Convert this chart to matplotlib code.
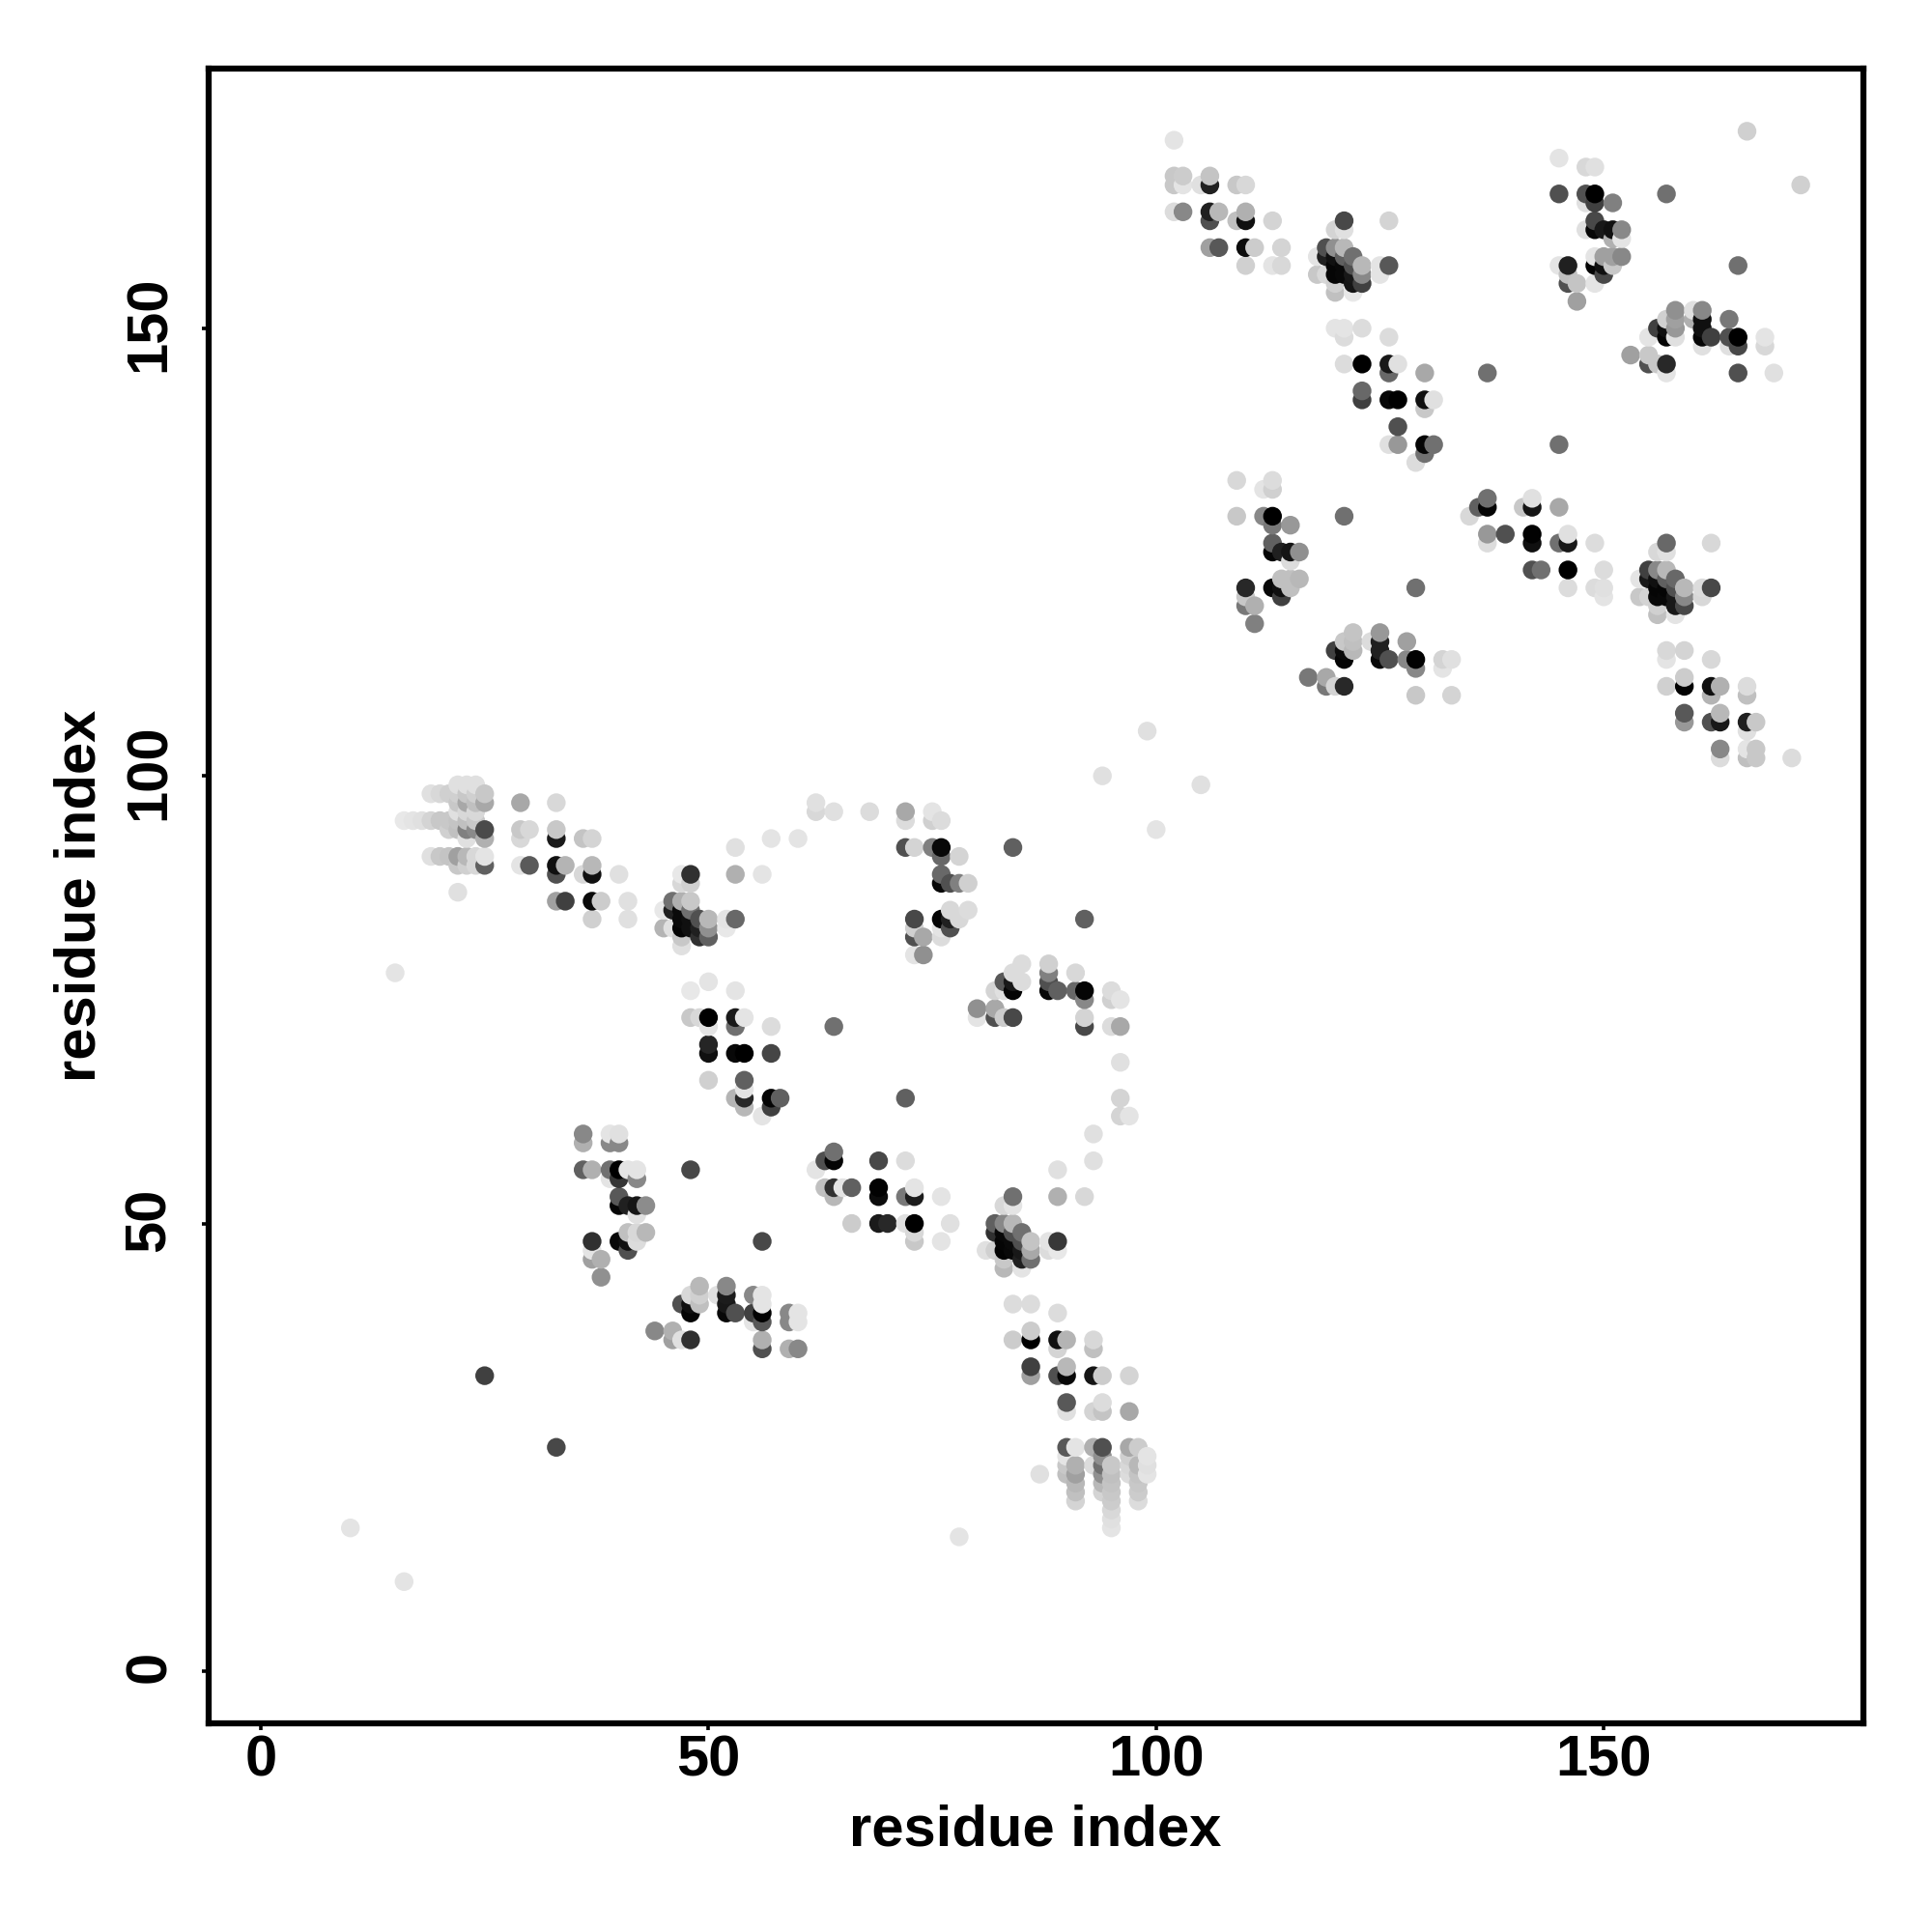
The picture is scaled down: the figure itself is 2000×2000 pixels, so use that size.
import numpy as np
import matplotlib
matplotlib.use("Agg")
from matplotlib import pyplot as plt
from matplotlib.transforms import ScaledTranslation

# contacts: (residue x, residue y, grey level)
outliers = [(10,16,0xe4),(16,10,0xe4),(15,78,0xe4),(78,15,0xe4),(25,33,0x40),(33,25,0x48),
	(48,56,0x48),(56,48,0x48),(64,72,0x70),(72,64,0x60),(84,92,0x60),(92,84,0x60),
	(94,100,0xe0),(100,94,0xe4),(99,105,0xe0),(105,99,0xe0),(121,129,0x70),(129,121,0x70),
	(137,145,0x70),(145,137,0x70),(157,165,0x70),(165,157,0x70),(166,172,0xd0),(172,166,0xd0),
	(102,171,0xe4),(171,102,0xdc)]

block_top_left = [(22,99,0xe0),(23,99,0xe0),(24,99,0xe0),(19,98,0xe0),(20,98,0xd8),(21,98,0xd0),
	(22,98,0xd0),(23,98,0xc8),(24,98,0xd0),(25,98,0xc8),(22,97,0xc8),(23,97,0xa8),(24,97,0xc0),(25,97,0xa8),
	(22,96,0xe0),(23,96,0xd8),(24,96,0xd8),(16,95,0xe8),(17,95,0xe4),(18,95,0xe0),(19,95,0xd4),
	(20,95,0xc8),(21,95,0xc8),(22,95,0xc4),(23,95,0xc0),(24,95,0xc8),(21,94,0xd0),(22,94,0xc0),
	(23,94,0x80),(24,94,0x8a),(25,94,0x4a),(23,93,0xe0),(25,93,0xb0),(19,91,0xe0),(20,91,0xc8),
	(21,91,0xc4),(22,91,0xa0),(23,91,0xb8),(24,91,0xd8),(25,91,0xe4),(22,90,0xc8),(23,90,0xd0),
	(24,90,0xd8),(25,90,0x60),(22,87,0xe0)]

block_33_41 = [(29,97,0xa8),(33,97,0xd8),(29,94,0xc8),(30,94,0xd8),(29,93,0xd8),(33,94,0xc8),(33,93,0x1a),
	(36,93,0xc4),(37,93,0xd4),(29,90,0xe4),(30,90,0x5a),(33,90,0x10),(34,90,0xb4),(33,89,0x50),
	(36,89,0xd8),(37,90,0xb8),(37,89,0x10),(40,89,0xe0),(33,86,0xa0),(34,86,0x40),(37,86,0x0a),
	(38,86,0xcc),(41,86,0xe0),(37,84,0xd0),(41,84,0xe0)]

block_48_84 = [(48,89,0x30),(47,89,0xe8),(47,88,0xd8),(48,88,0xd0),(53,92,0xe0),(53,89,0xb0),(56,89,0xe4),
	(57,93,0xe4),(60,93,0xe4),(62,97,0xe0),(62,96,0xd8),(64,96,0xe0),(45,85,0xe8),(46,86,0x70),
	(47,86,0xb0),(48,86,0xc8),(46,85,0x20),(47,85,0x0a),(48,85,0x70),(45,83,0xb4),(46,83,0xe0),
	(47,84,0x0a),(48,84,0x10),(49,84,0x50),(50,84,0xb8),(47,83,0x05),(48,83,0x10),(49,83,0x20),
	(50,83,0x90),(49,82,0x30),(50,82,0x60),(47,82,0xc8),(47,81,0xe0),(52,84,0xe4),(53,84,0x68),(52,83,0xe8)]

block_50_72 = [(48,76,0xe8),(50,77,0xe4),(53,76,0xe4),(48,73,0xc8),(49,73,0xd8),(50,73,0x00),(50,72,0xe4),
	(53,73,0x1a),(54,73,0xe4),(53,72,0x70),(57,72,0xdc),(50,70,0x25),(50,69,0x10),(53,69,0x08),
	(54,69,0x00),(57,69,0x45),(50,66,0xd0),(54,66,0x60),(54,65,0xe4),(53,64,0xb4),(54,64,0x28),
	(54,63,0xb8),(57,64,0x05),(58,64,0x60),(57,63,0x40),(56,62,0xe4)]

block_36_60 = [(36,60,0x88),(36,59,0xb0),(39,60,0xe4),(40,60,0xe0),(39,59,0x88),(40,59,0x88),(36,56,0x60),
	(37,56,0xb0),(39,56,0x70),(40,56,0x00),(41,56,0xe4),(42,56,0xe4),(39,55,0xe4),(40,55,0x35),
	(42,55,0x88),(40,53,0x58),(40,52,0x05),(41,52,0x20),(42,52,0x15),(43,52,0x8c),(42,51,0xe0),
	(41,49,0xc0),(42,49,0xd8),(43,49,0xb8),(37,48,0x30),(40,48,0x08),(41,48,0x10),(42,48,0xdc),
	(37,47,0xe4),(41,47,0x50),(37,46,0xa0),(38,46,0xb0),(38,44,0x90)]

block_44_60 = [(49,43,0xb8),(52,43,0x88),(48,42,0xd8),(49,42,0xd0),(51,42,0xe0),(52,42,0x1c),(55,42,0x88),
	(56,42,0xe4),(47,41,0x50),(48,41,0x10),(49,41,0xc0),(52,41,0x18),(56,41,0xe4),(48,40,0x05),
	(52,40,0x08),(53,40,0x50),(55,40,0x40),(56,40,0x02),(59,40,0x88),(60,40,0xe4),(44,38,0x88),
	(46,38,0xb0),(55,39,0xe4),(56,39,0x58),(59,39,0x88),(60,39,0xe4),(46,37,0xa0),(47,37,0xe0),
	(48,37,0x30),(56,37,0xb0),(56,36,0x50),(59,36,0xb0),(60,36,0x88)]

block_62_77 = [(64,58,0x70),(63,57,0x50),(64,57,0x05),(69,57,0x48),(72,57,0xdc),(62,56,0xe4),(63,54,0xc0),
	(64,54,0x30),(65,54,0xe4),(66,54,0x60),(64,53,0xb8),(69,54,0x02),(69,53,0x0c),(72,53,0x78),
	(73,54,0xe4),(73,53,0x1c),(76,53,0xe4),(66,50,0xcc),(69,50,0x1a),(70,50,0x28),(72,50,0xe0),
	(73,50,0x00),(77,50,0xe0),(73,49,0xd8),(73,48,0xc8),(76,48,0xe4)]

block_83_49 = [(84,53,0x70),(83,52,0xd8),(84,52,0xe4),(89,53,0xb0),(92,53,0xd8),(89,56,0xe0),(93,57,0xe0),
	(93,60,0xe0),(96,64,0xd4),(96,62,0xd4),(97,62,0xe4),(96,68,0xe0),(82,50,0x60),(83,50,0x88),
	(84,50,0xb8),(82,49,0x30),(83,49,0x08),(84,49,0x50),(85,49,0x70),(81,47,0xe0),(82,47,0xd0),
	(83,48,0x05),(84,48,0x0a),(85,48,0x50),(86,48,0xc4),(83,47,0x02),(84,47,0x08),(85,47,0x18),
	(86,47,0xa8),(85,46,0x20),(86,46,0x70),(83,46,0xc8),(83,45,0xb8),(85,45,0xe4),(88,48,0xe4),
	(89,48,0x38),(88,47,0xdc),(89,47,0xe8)]

block_84_37 = [(84,41,0xdc),(86,41,0xdc),(89,40,0xdc),(84,37,0xcc),(86,38,0xcc),(86,37,0x00),(89,37,0x10),
	(90,37,0xb4),(89,36,0xd4),(93,37,0xd8),(93,36,0xc0),(86,34,0x40),(86,33,0xa0),(89,33,0x50),
	(90,34,0xb8),(90,33,0x08),(93,33,0x15),(94,33,0xcc),(97,33,0xd4),(90,30,0x58),(90,29,0xe0),
	(93,29,0xd4),(94,30,0xdc),(94,29,0xc4),(97,29,0xa8)]

block_bottom = [(90,25,0x58),(91,25,0xe4),(93,25,0xb0),(94,25,0x50),(97,25,0xa8),(98,25,0xcc),(90,24,0xe4),
	(94,24,0x90),(97,24,0xd0),(99,24,0xe4),(90,23,0xc8),(91,23,0xb0),(93,23,0xdc),(94,23,0x70),
	(95,23,0xc8),(97,23,0xd8),(98,23,0xb8),(99,23,0xe0),(87,22,0xe0),(90,22,0xc0),(91,22,0xa0),
	(94,22,0x90),(95,22,0xc0),(97,22,0xdc),(98,22,0xc4),(99,22,0xe4),(91,21,0xb8),(94,21,0xb8),
	(95,21,0xc4),(98,21,0xc8),(91,20,0xc0),(94,20,0xd4),(95,20,0xc8),(98,20,0xcc),(91,19,0xd4),
	(95,19,0xcc),(98,19,0xdc),(95,18,0xd8),(95,17,0xe0),(95,16,0xe4)]

block_72_96 = [(68,96,0xdc),(72,96,0xa8),(72,95,0xdc),(75,96,0xe4),(75,95,0xd0),(76,95,0xdc),(72,92,0x50),
	(73,92,0xd4),(75,92,0x80),(76,92,0x08),(76,91,0x68),(78,91,0xd4),(76,89,0x68),(76,88,0x08),
	(77,88,0x50),(78,88,0x80),(79,88,0xd0),(77,85,0xd8),(79,85,0xdc),(73,84,0x48),(76,84,0x05),
	(77,84,0x20),(78,84,0xd8),(73,83,0xd0),(76,83,0xe4),(77,83,0x50),(73,82,0x50),(74,82,0xa8),
	(76,82,0xdc),(73,80,0xe4),(74,80,0x90)]

block_80_96 = [(85,79,0xdc),(84,78,0xdc),(88,79,0xd0),(88,78,0x80),(91,78,0xd8),(83,77,0x58),(84,77,0x18),
	(85,77,0xdc),(88,77,0x50),(82,76,0xd4),(83,76,0xe0),(84,76,0x05),(88,76,0x08),(89,76,0x60),
	(91,76,0x68),(92,76,0x05),(92,75,0x88),(95,76,0xdc),(95,75,0xd0),(96,75,0xe4),(80,74,0x90),
	(82,74,0xa8),(80,73,0xe4),(82,73,0x50),(83,73,0xcc),(84,73,0x48),(92,73,0xd4),(92,72,0x48),
	(95,72,0xdc),(96,72,0xa8)]

block_102_114 = [(102,167,0xc8),(103,167,0xcc),(106,167,0xc4),(102,166,0xc8),(103,166,0xe4),(105,166,0xe0),
	(106,166,0x20),(109,166,0xc8),(110,166,0xd8),(102,163,0xdc),(103,163,0x88),(106,163,0x20),
	(107,163,0xb8),(106,162,0x50),(109,162,0xc0),(110,163,0xb0),(110,162,0x10),(113,162,0xd4),
	(106,159,0xa0),(107,159,0x58),(110,159,0x0c),(111,159,0xcc),(114,159,0xd4),(110,157,0xd0),
	(113,157,0xe4),(114,157,0xd8)]

block_118_126 = [(121,162,0x48),(120,161,0xd4),(121,161,0xe0),(126,162,0xd4),(119,159,0x50),(120,159,0x90),
	(121,159,0xb8),(118,158,0xe4),(119,158,0x20),(120,158,0x10),(121,158,0x60),(122,158,0x70),
	(120,157,0x05),(121,157,0x08),(122,157,0x50),(123,157,0xb8),(125,157,0xe4),(126,157,0x58),
	(118,156,0xc8),(119,156,0xd8),(120,156,0x05),(121,156,0x08),(122,156,0x18),(123,156,0x88),
	(125,156,0xe4),(122,155,0x15),(123,155,0x40),(120,155,0xd0),(120,154,0xc0),(122,154,0xe8)]

block_120_131 = [(120,150,0xe4),(121,150,0xe4),(123,150,0xdc),(121,149,0xdc),(126,149,0xdc),(121,146,0xdc),
	(123,146,0x00),(126,146,0x18),(127,146,0xe0),(126,145,0x68),(130,145,0xa8),(123,143,0x68),
	(123,142,0x40),(126,142,0x08),(127,142,0x00),(130,142,0x10),(131,142,0xe0),(130,141,0xc8),
	(127,139,0x50),(126,137,0xe0),(127,137,0x98),(130,137,0x05),(131,137,0x70),(130,136,0x70),
	(129,135,0xdc)]

block_109_116 = [(109,133,0xd8),(113,133,0xdc),(112,132,0xe4),(113,132,0xd0),(109,129,0xc8),(112,129,0x88),
	(113,129,0x00),(115,128,0x98),(113,128,0x78),(113,126,0x60),(113,125,0x05),(114,125,0x20),
	(115,125,0x15),(116,125,0x90),(115,124,0xdc),(114,122,0xc0),(115,122,0xc0),(116,122,0xb8),
	(110,121,0x28),(113,121,0x08),(114,121,0x10),(115,121,0xc0),(114,120,0x40),(110,120,0xc8),
	(110,119,0x78),(111,119,0xb0),(111,117,0x80)]

block_145_152 = [(145,169,0xe4),(148,168,0xd8),(149,168,0xe0),(145,165,0x50),(148,165,0x50),(149,165,0x00),
	(148,164,0xe0),(149,164,0x40),(151,164,0x80),(149,162,0x48),(148,161,0xe0),(149,161,0x08),
	(150,161,0x18),(151,161,0x10),(152,161,0x88),(151,160,0xb0),(152,160,0xe4),(145,157,0xe4),
	(146,157,0x20),(149,158,0xe4),(150,158,0xa0),(151,158,0xa0),(152,158,0x88),(149,157,0x05),
	(150,157,0x10),(151,157,0xc8),(146,156,0xc0),(150,156,0x48),(146,155,0x50),(147,155,0xc4),
	(149,155,0xe4),(147,153,0xa0)]

block_153_169 = [(158,152,0x90),(160,152,0xe0),(161,152,0x88),(160,151,0xb0),(157,151,0xd0),(158,151,0xa0),
	(161,151,0x10),(164,151,0x78),(156,150,0x40),(157,150,0x10),(158,150,0x98),(161,150,0x10),
	(155,149,0xe4),(157,149,0x05),(158,149,0xe0),(161,149,0x05),(162,149,0x40),(164,149,0x50),
	(165,149,0x00),(168,149,0xe4),(161,148,0xe0),(164,148,0xe0),(165,148,0x48),(168,148,0xd8),
	(153,147,0xa0),(155,147,0xc8),(155,146,0x50),(156,146,0xc8),(157,146,0x28),(157,145,0xe4),
	(165,145,0x50),(169,145,0xe0)]

block_135_150 = [(137,131,0x70),(136,130,0x60),(137,130,0x05),(135,129,0xd8),(142,131,0xe0),(141,130,0xc8),
	(142,130,0x15),(145,130,0xa8),(137,127,0x98),(139,127,0x50),(137,126,0xdc),(142,127,0x02),
	(142,126,0x10),(145,126,0x70),(146,127,0xe0),(146,126,0x18),(149,126,0xdc),(142,123,0x50),
	(143,123,0x70),(146,123,0x00),(150,123,0xdc),(146,121,0xdc),(149,121,0xdc),(150,121,0xe0),
	(150,120,0xe4)]

block_154_162 = [(157,126,0x68),(156,125,0xd8),(157,125,0xe0),(162,126,0xd8),(155,123,0x40),(156,123,0x88),
	(157,123,0xb8),(154,122,0xe4),(155,122,0x18),(156,122,0x10),(157,122,0x60),(158,122,0x68),
	(156,121,0x05),(157,121,0x05),(158,121,0x50),(159,121,0xb8),(161,121,0xdc),(162,121,0x48),
	(154,120,0xc8),(155,120,0xd4),(156,120,0x08),(157,120,0x08),(158,120,0x18),(159,120,0x88),
	(161,120,0xd8),(158,119,0x18),(159,119,0x48),(156,119,0xd0),(156,118,0xc0),(158,118,0xe4)]

block_157_167 = [(157,114,0xd8),(159,114,0xd4),(157,113,0xe4),(162,113,0xd8),(157,110,0xd0),(159,111,0xcc),
	(159,110,0x02),(162,110,0x10),(163,110,0xb0),(162,109,0xb4),(166,110,0xdc),(166,109,0xc0),
	(159,107,0x58),(159,106,0x98),(162,106,0x50),(163,107,0xb8),(163,106,0x18),(166,106,0x20),
	(167,106,0xc8),(166,105,0xe0),(163,103,0x88),(163,102,0xdc),(166,103,0xe4),(167,103,0xc8),
	(166,102,0xc0),(167,102,0xc8)]

block_117_133 = [(122,116,0xc4),(125,116,0x98),(121,115,0xc8),(122,115,0xc0),(124,115,0xdc),(125,115,0x20),
	(128,115,0xa0),(120,114,0x40),(121,114,0x0a),(122,114,0xb8),(125,114,0x20),(121,113,0x05),
	(125,113,0x08),(126,113,0x50),(128,113,0x88),(129,113,0x02),(132,113,0xd4),(133,113,0xe0),
	(129,112,0x88),(132,112,0xe4),(117,111,0x78),(119,111,0xa8),(119,110,0x78),(120,110,0xd4),
	(121,110,0x28),(129,109,0xc8),(133,109,0xd4)]

blocks = [outliers, block_top_left, block_33_41, block_48_84, block_50_72, block_36_60, block_44_60,
	block_62_77, block_83_49, block_84_37, block_bottom, block_72_96, block_80_96, block_102_114,
	block_118_126, block_120_131, block_109_116, block_145_152, block_153_169, block_135_150,
	block_154_162, block_157_167, block_117_133]
ticks = [0, 50, 100, 150]

pts = np.array([p for b in blocks for p in b])
order = np.lexsort((pts[:,1], pts[:,0]))# later x, then later y, ends up on top
pts = pts[order]
grey = [(v/255, v/255, v/255) for v in pts[:,2]]

plt.rcParams['font.family'] = ['Liberation Sans', 'DejaVu Sans']
plt.rcParams['font.weight'] = 'bold'

fig = plt.figure(figsize=(20,20), dpi=100)
ax = fig.add_axes([216/2000, 1-1784/2000, (1929-216)/2000, (1784-71)/2000])
ax.scatter(pts[:,0], pts[:,1], s=195, c=grey, linewidths=0, zorder=3)
ax.set_xlim(-5.83, 179)
ax.set_ylim(-5.83, 179)
ax.set_xticks(ticks)
ax.set_yticks(ticks)
for s in ax.spines.values():
	s.set_linewidth(4.5)
ax.tick_params(axis='x', length=5, width=2.6, pad=3.5, labelsize=43)
ax.tick_params(axis='y', length=5, width=2.6, pad=19, labelsize=43, labelrotation=90)
up = ScaledTranslation(0, 3/72, fig.dpi_scale_trans)# rotated labels sit a bit low otherwise
for t in ax.get_yticklabels():
	t.set_va('center')
	t.set_transform(t.get_transform() + up)
ax.set_xlabel('residue index', fontsize=43, fontweight='bold')
ax.set_ylabel('residue index', fontsize=43, fontweight='bold')
ax.xaxis.set_label_coords(1072/2000, 1-1895/2000, transform=fig.transFigure)
ax.yaxis.set_label_coords(83/2000, 1-927/2000, transform=fig.transFigure)
ax.xaxis.label.set_va('center')
ax.yaxis.label.set_va('center')
fig.savefig('out.png', dpi=100)
